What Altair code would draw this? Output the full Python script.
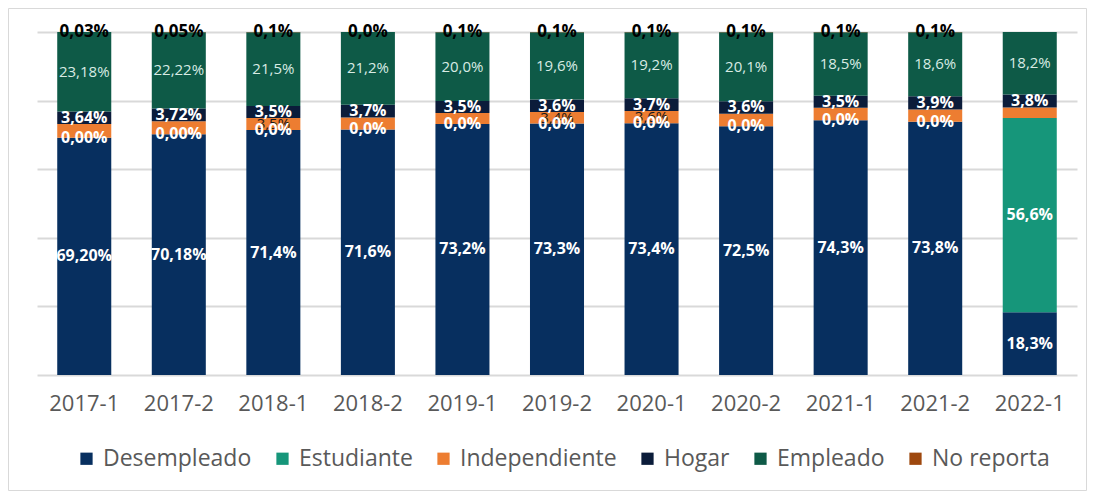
import altair as alt
import pandas as pd

periods = ["2017-1", "2017-2", "2018-1", "2018-2", "2019-1", "2019-2",
           "2020-1", "2020-2", "2021-1", "2021-2", "2022-1"]
categories = ["Desempleado", "Estudiante", "Independiente", "Hogar", "Empleado", "No reporta"]
colors = ["#072F5F", "#16967A", "#ED7D31", "#0B1C3A", "#0E5A47", "#9E480E"]

desempleado = [69.20, 70.18, 71.4, 71.6, 73.2, 73.3, 73.4, 72.5, 74.3, 73.8, 18.3]
estudiante = [0.00, 0.00, 0.0, 0.0, 0.0, 0.0, 0.0, 0.0, 0.0, 0.0, 56.6]
independiente = [3.95, 3.83, 3.5, 3.5, 3.2, 3.4, 3.6, 3.7, 3.6, 3.6, 3.1]
hogar = [3.64, 3.72, 3.5, 3.7, 3.5, 3.6, 3.7, 3.6, 3.5, 3.9, 3.8]
empleado = [23.18, 22.22, 21.5, 21.2, 20.0, 19.6, 19.2, 20.1, 18.5, 18.6, 18.2]
no_reporta = [0.03, 0.05, 0.1, 0.0, 0.1, 0.1, 0.1, 0.1, 0.1, 0.1, 0.0]
decimals = [2, 2, 1, 1, 1, 1, 1, 1, 1, 1, 1]
indep_label_shown = [False, False, True, False, False, True, True, False, False, False, False]
no_reporta_label_shown = [True] * 10 + [False]

series = [desempleado, estudiante, independiente, hogar, empleado, no_reporta]
rows = []
for i, p in enumerate(periods):
    for j, cat in enumerate(categories):
        v = series[j][i]
        show = True
        if cat == "Independiente":
            show = indep_label_shown[i]
        if cat == "No reporta":
            show = no_reporta_label_shown[i]
        txt = f"{v:.{decimals[i]}f}%".replace(".", ",")
        rows.append({"period": p, "category": cat, "value": v, "order": j,
                     "show": show, "label": txt})
df = pd.DataFrame(rows)

FONT = "Open Sans"
yscale = alt.Scale(domain=[0, 100], nice=False)
xscale = alt.Scale(domain=periods, paddingInner=0.4286, paddingOuter=0.214)

base = alt.Chart(df).transform_stack(
    stack="value", groupby=["period"], sort=[alt.SortField("order", "ascending")],
    as_=["y0", "y1"]
).transform_calculate(mid="(datum.y0 + datum.y1) / 2")

bars = base.mark_bar().encode(
    x=alt.X("period:N", scale=xscale, sort=periods,
            axis=alt.Axis(title=None, labelAngle=0, labelFontSize=22, labelFont=FONT,
                          labelColor="#595959", ticks=False, domain=False,
                          labelPadding=18, grid=False)),
    y=alt.Y("y0:Q", scale=yscale,
            axis=alt.Axis(title=None, labels=False, ticks=False, domain=False,
                          values=list(range(0, 101, 10)), grid=True,
                          gridColor="#D9D9D9", gridWidth=2)),
    y2="y1:Q",
    color=alt.Color("category:N", scale=alt.Scale(domain=categories, range=colors),
                    legend=alt.Legend(orient="none", legendX=38, legendY=415,
                                      direction="horizontal", columns=6, title=None,
                                      symbolType="square", symbolSize=150,
                                      symbolStrokeWidth=0, labelFontSize=23,
                                      labelFont=FONT, labelColor="#595959",
                                      columnPadding=19, labelOffset=5)),
)


def label_layer(cats, color, weight, size):
    return base.transform_filter(
        alt.FieldOneOfPredicate(field="category", oneOf=cats)
    ).transform_filter("datum.show").mark_text(
        color=color, fontWeight=weight, fontSize=size, font=FONT, baseline="middle"
    ).encode(
        x=alt.X("period:N", scale=xscale, sort=periods),
        y=alt.Y("mid:Q", scale=yscale),
        text="label:N",
    )


t_indep = label_layer(["Independiente"], "#1A1A1A", "normal", 15)
t_white = label_layer(["Desempleado", "Estudiante", "Hogar"], "#FFFFFF", "bold", 16)
t_emp = label_layer(["Empleado"], "#D8EBE4", "normal", 15)
t_nr = label_layer(["No reporta"], "#000000", "bold", 17)

border = alt.Chart(pd.DataFrame({"a": [0]})).mark_rect(
    fill=None, stroke="#D9D9D9", strokeWidth=1
).encode(x=alt.value(-28.5), x2=alt.value(1049.5), y=alt.value(-23.5), y2=alt.value(458.5))

chart = alt.layer(bars, t_indep, t_white, t_emp, t_nr, border).properties(
    width=1040, height=343,
    autosize=alt.AutoSizeParams(type="none"),
    padding={"left": 29, "top": 24, "right": 10, "bottom": 116},
).configure_view(stroke=None)

chart.save("out.html", embed_options={"renderer": "svg", "actions": False})
